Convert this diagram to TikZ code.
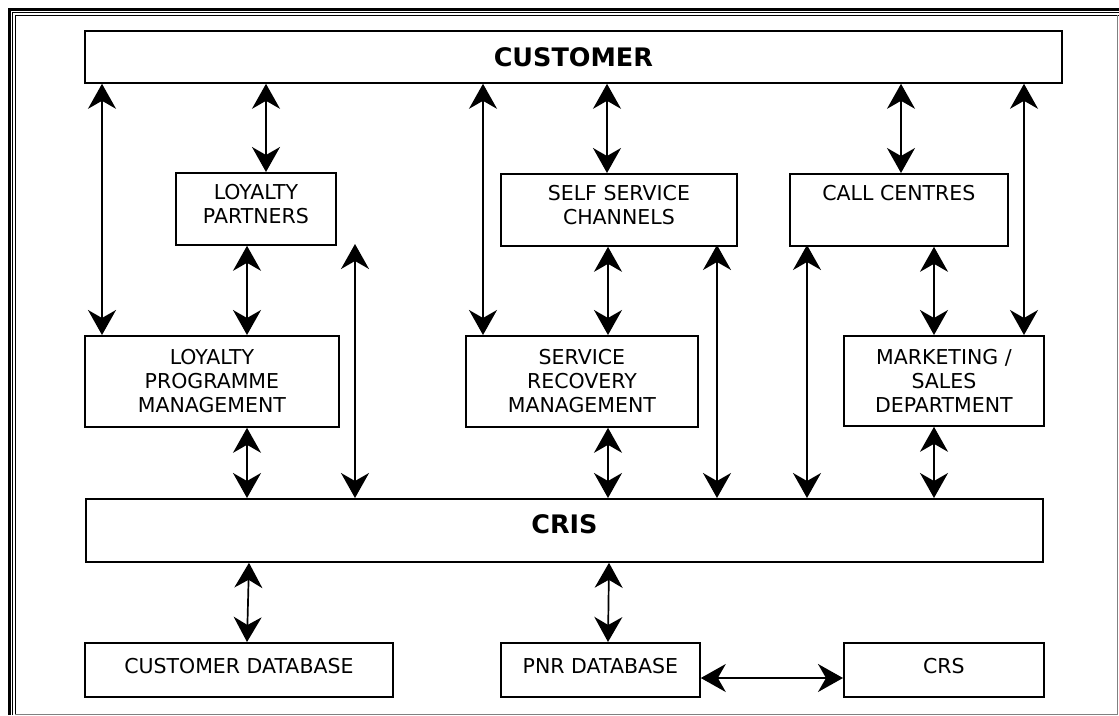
\documentclass[tikz,border=0pt]{standalone}
\usepackage{fontspec}
\setmainfont{DejaVu Sans}
\usetikzlibrary{arrows.meta}

\tikzset{
	box/.style={draw, line width=1.8pt, align=center, inner sep=0pt, anchor=north west,
		font=\fontsize{20.5}{24}\selectfont},
	bigbox/.style={box, font=\fontsize{25.5}{30}\bfseries},
	link/.style={line width=1.7pt,
		{Stealth[length=25pt,width=28pt,inset=8pt]}-{Stealth[length=25pt,width=28pt,inset=8pt]}}
}

\begin{document}
\begin{tikzpicture}[x=1pt, y=-1pt]

	\useasboundingbox (0,0) rectangle (1119,715);

	% Page frame
	\draw[line width=2.2pt] (9.5,715) -- (9.5,9.5) -- (1119,9.5);
	\draw[line width=1pt] (12.8,715) -- (12.8,12.8) -- (1119,12.8);
	\draw[line width=1.6pt] (15.3,715) -- (15.3,15.3) -- (1119,15.3);
	\draw[gray, line width=1pt] (15.3,714.5) -- (1117.6,714.5) -- (1117.6,15.3);

	% Top and bottom bars
	\node[bigbox, minimum width=977pt, minimum height=52pt] (customer) at (84,30) {CUSTOMER};
	\node[bigbox, minimum width=957pt, minimum height=63pt, text depth=12pt] (cris) at (85,498) {CRIS};

	% Channels
	\node[box, minimum width=160pt, minimum height=72pt, text depth=10pt] (partners) at (175,172) {LOYALTY\\PARTNERS};
	\node[box, minimum width=236pt, minimum height=72pt, text depth=10pt] (selfserv) at (500,173) {SELF SERVICE\\CHANNELS};
	\node[box, minimum width=218pt, minimum height=72pt, text depth=10pt] (callctr) at (789,173) {CALL CENTRES\\\mbox{}};

	% Departments
	\node[box, minimum width=254pt, minimum height=91pt] (loyprog) at (84,335) {LOYALTY\\PROGRAMME\\MANAGEMENT};
	\node[box, minimum width=232pt, minimum height=91pt] (recovery) at (465,335) {SERVICE\\RECOVERY\\MANAGEMENT};
	\node[box, minimum width=200pt, minimum height=90pt] (marketing) at (843,335) {MARKETING /\\SALES\\DEPARTMENT};

	% Data stores
	\node[box, minimum width=308pt, minimum height=54pt, text depth=8pt] (custdb) at (84,642) {CUSTOMER DATABASE};
	\node[box, minimum width=199pt, minimum height=54pt, text depth=8pt] (pnrdb) at (500,642) {PNR DATABASE};
	\node[box, minimum width=200pt, minimum height=54pt, text depth=8pt] (crs) at (843,642) {CRS};

	% Loose ends of the long links into CRIS
	\coordinate (partnerside) at (355,244);
	\coordinate (selfside) at (717,245);
	\coordinate (callside) at (807,245);

	% Customer links
	\draw[link] (customer.south -| 102,0) -- (loyprog.north -| 102,0);
	\draw[link] (customer.south -| 266,0) -- (partners.north -| 266,0);
	\draw[link] (customer.south -| 483,0) -- (recovery.north -| 483,0);
	\draw[link] (customer.south -| 607,0) -- (selfserv.north -| 607,0);
	\draw[link] (customer.south -| 901,0) -- (callctr.north -| 901,0);
	\draw[link] (customer.south -| 1024,0) -- (marketing.north -| 1024,0);

	% Channels to departments
	\draw[link] (partners.south -| 247,0) -- (loyprog.north -| 247,0);
	\draw[link] (selfserv.south -| 608,0) -- (recovery.north -| 608,0);
	\draw[link] (callctr.south -| 934,0) -- (marketing.north -| 934,0);

	% Into CRIS
	\draw[link] (loyprog.south -| 247,0) -- (cris.north -| 247,0);
	\draw[link] (partnerside) -- (cris.north -| partnerside);
	\draw[link] (recovery.south -| 608,0) -- (cris.north -| 608,0);
	\draw[link] (selfside) -- (cris.north -| selfside);
	\draw[link] (callside) -- (cris.north -| callside);
	\draw[link] (marketing.south -| 934,0) -- (cris.north -| 934,0);

	% CRIS to data stores
	\draw[link] (cris.south -| 249,0) -- (custdb.north -| 247,0);
	\draw[link] (cris.south -| 609,0) -- (pnrdb.north -| 608,0);
	\draw[link] (pnrdb.east |- 0,678) -- (crs.west |- 0,678);

\end{tikzpicture}
\end{document}
